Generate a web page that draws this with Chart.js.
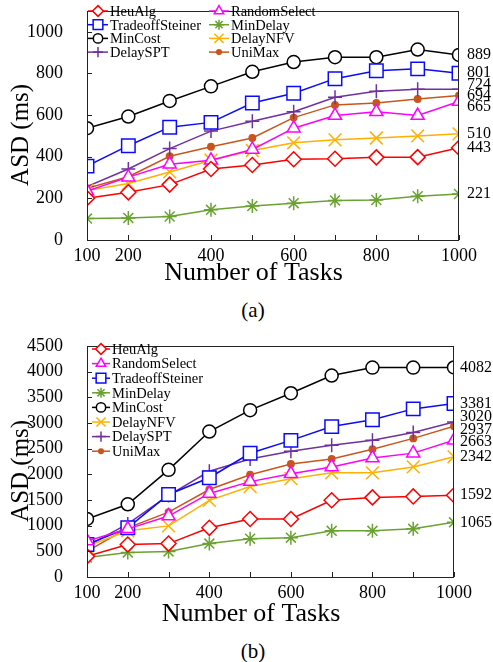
<!DOCTYPE html>
<html lang="en">
<head>
  <meta charset="UTF-8" />
  <title>ASD vs Number of Tasks</title>
  <style>
  body {
    margin: 0;
    background: #ffffff;
    font-family: "Liberation Serif", "Times New Roman", serif;
  }
  .page {
    position: relative;
    width: 493px;
    height: 662px;
  }
  .box {
    position: absolute;
    left: 0;
    width: 493px;
  }
  .caption {
    position: absolute;
    left: 0;
    width: 506px;
    text-align: center;
    font-size: 21px;
    color: #000;
  }
  </style>
  <script src="https://cdn.jsdelivr.net/npm/chart.js"></script>
</head>
<body>
  <div class="page">
    <div class="box" style="top:0;height:290px"><canvas id="chartA"></canvas></div>
    <div class="caption" style="top:298px">(a)</div>
    <div class="box" style="top:335px;height:296px"><canvas id="chartB"></canvas></div>
    <div class="caption" style="top:639px">(b)</div>
  </div>

  <script>
  // x values shared by both panels
  const taskCounts = [100, 200, 300, 400, 500, 600, 700, 800, 900, 1000];
  const xTickLabels = [100, 200, 400, 600, 800, 1000];
  const seriesNames = ['HeuAlg', 'RandomSelect', 'TradeoffSteiner', 'MinDelay', 'MinCost', 'DelayNFV', 'DelaySPT', 'UniMax'];

  // panel (a)
  const heuAlgA          = [201, 229, 266, 341, 360, 388, 390, 397, 398, 443];
  const randomSelectA    = [235, 302, 364, 383, 435, 537, 598, 616, 598, 665];
  const tradeoffSteinerA = [355, 453, 542, 565, 658, 705, 775, 813, 822, 801];
  const minDelayA        = [103, 106, 113, 145, 163, 177, 190, 192, 210, 221];
  const minCostA         = [537, 593, 668, 738, 808, 855, 878, 878, 915, 889];
  const delayNFVA        = [238, 271, 327, 383, 430, 467, 481, 490, 500, 510];
  const delaySPTA        = [257, 341, 439, 523, 570, 616, 686, 714, 724, 724];
  const uniMaxA          = [248, 304, 402, 448, 490, 588, 649, 658, 677, 694];
  const yTicksA = [0, 200, 400, 600, 800, 1000];

  // panel (b)
  const heuAlgB          = [402, 632, 651, 958, 1130, 1130, 1494, 1551, 1570, 1592];
  const randomSelectB    = [700, 938, 1187, 1628, 1858, 2011, 2145, 2317, 2413, 2663];
  const tradeoffSteinerB = [632, 958, 1608, 1934, 2410, 2662, 2930, 3064, 3275, 3381];
  const minDelayB        = [380, 479, 498, 651, 747, 766, 900, 900, 938, 1065];
  const minCostB         = [1130, 1417, 2087, 2834, 3250, 3580, 3925, 4080, 4080, 4082];
  const delayNFVB        = [600, 900, 996, 1494, 1762, 1915, 2030, 2030, 2145, 2342];
  const delaySPTB        = [600, 1034, 1590, 2060, 2300, 2451, 2566, 2662, 2815, 3020];
  const uniMaxB          = [498, 958, 1264, 1704, 1992, 2202, 2298, 2490, 2700, 2937];
  const yTicksB = [0, 500, 1000, 1500, 2000, 2500, 3000, 3500, 4000, 4500];

  const FONT = "'Liberation Serif', 'Times New Roman', serif";

  // marker look for each series (same order as seriesNames)
  const styles = [
    { color: '#ff0000', shape: 'rectRot',  r: 7.5 },
    { color: '#ff00ff', shape: 'triangle', r: 7.5 },
    { color: '#0a0aff', shape: 'rect',     r: 9.5 },
    { color: '#6aa232', shape: 'star',     r: 7 },
    { color: '#000000', shape: 'circle',   r: 6.5 },
    { color: '#ffb000', shape: 'crossRot', r: 9 },
    { color: '#7030a0', shape: 'cross',    r: 7 },
    { color: '#c8561c', shape: 'circle',   r: 3.2, filled: true }
  ];

  function makeDatasets(seriesValues) {
    return seriesValues.map((vals, i) => {
      const s = styles[i];
      return {
        label: seriesNames[i],
        data: taskCounts.map((x, k) => ({ x: x, y: vals[k] })),
        borderColor: s.color,
        backgroundColor: s.filled ? s.color : '#ffffff',
        borderWidth: 1.5,
        pointStyle: s.shape,
        pointRadius: s.r,
        pointBorderWidth: 1.5,
        pointBorderColor: s.color,
        pointBackgroundColor: s.filled ? s.color : '#ffffff',
        tension: 0
      };
    });
  }

  // frame, inward tick marks, value labels at the right end and the legend
  const decorations = {
    id: 'decorations',
    afterDatasetsDraw(chart, args, opts) {
      const ctx = chart.ctx;
      const area = chart.chartArea;
      const xs = chart.scales.x;
      const ys = chart.scales.y;
      ctx.save();

      // frame
      ctx.strokeStyle = '#222';
      ctx.lineWidth = 1;
      ctx.strokeRect(area.left + 0.5, area.top + 0.5, area.right - area.left - 1, area.bottom - area.top);

      // tick marks pointing inward
      ctx.beginPath();
      xs.ticks.forEach(t => {
        const px = Math.round(xs.getPixelForValue(t.value)) + 0.5;
        ctx.moveTo(px, area.bottom);
        ctx.lineTo(px, area.bottom - 5);
      });
      ys.ticks.forEach(t => {
        const py = Math.round(ys.getPixelForValue(t.value)) + 0.5;
        ctx.moveTo(area.left, py);
        ctx.lineTo(area.left + 5, py);
      });
      ctx.stroke();

      // end value labels, spread apart when they collide
      const items = chart.data.datasets.map(ds => {
        const v = ds.data[ds.data.length - 1].y;
        return { text: String(v), want: ys.getPixelForValue(v) };
      }).sort((a, b) => a.want - b.want);
      let groups = items.map(it => ({ items: [it], sum: it.want }));
      let merged = true;
      const gap = opts.labelGap;
      const place = g => {
        const mid = g.sum / g.items.length;
        g.top = mid - (g.items.length - 1) * gap / 2;
      };
      groups.forEach(place);
      while (merged) {
        merged = false;
        for (let i = 0; i < groups.length - 1; i++) {
          const a = groups[i], b = groups[i + 1];
          const aEnd = a.top + (a.items.length - 1) * gap;
          if (b.top - aEnd < gap) {
            a.items = a.items.concat(b.items);
            a.sum += b.sum;
            place(a);
            groups.splice(i + 1, 1);
            merged = true;
            break;
          }
        }
      }
      ctx.fillStyle = '#000';
      ctx.font = opts.labelFont + 'px ' + FONT;
      ctx.textAlign = 'left';
      ctx.textBaseline = 'middle';
      groups.forEach(g => {
        g.items.forEach((it, k) => {
          ctx.fillText(it.text, area.right + opts.labelOffset, g.top + k * gap);
        });
      });

      // legend inside the plot
      const L = opts.legend;
      ctx.font = L.font + 'px ' + FONT;
      chart.data.datasets.forEach((ds, i) => {
        const col = i % L.cols;
        const row = Math.floor(i / L.cols);
        const x0 = L.x[col];
        const y = L.y0 + row * L.dy;
        const s = styles[i];
        ctx.strokeStyle = s.color;
        ctx.lineWidth = 1.5;
        ctx.beginPath();
        ctx.moveTo(x0, y);
        ctx.lineTo(x0 + L.len, y);
        ctx.stroke();
        ctx.fillStyle = s.filled ? s.color : '#ffffff';
        Chart.helpers.drawPoint(ctx, {
          pointStyle: s.shape,
          radius: s.r * 0.72,
          rotation: 0,
          borderWidth: 1.5
        }, x0 + L.len / 2, y);
        ctx.fillStyle = '#000';
        ctx.fillText(ds.label, x0 + L.len + 2, y + 1);
      });
      ctx.restore();
    }
  };

  function makeChart(id, seriesValues, yMax, yTickValues, dims, extra) {
    const ctx = document.getElementById(id).getContext('2d');
    return new Chart(ctx, {
      type: 'line',
      data: { datasets: makeDatasets(seriesValues) },
      plugins: [decorations],
      options: {
        responsive: true,
        maintainAspectRatio: false,
        animation: false,
        layout: { padding: { top: dims.top, right: dims.right, left: 0, bottom: 0 } },
        plugins: {
          legend: { display: false },
          tooltip: { enabled: false },
          decorations: extra
        },
        scales: {
          x: {
            type: 'linear',
            min: 100,
            max: 1000,
            grid: { display: false },
            border: { display: false },
            afterBuildTicks: scale => {
              scale.ticks = taskCounts.map(v => ({ value: v }));
            },
            afterFit: scale => {
              scale.height = dims.xHeight;
              scale.paddingLeft = 0;
              scale.paddingRight = 0;
            },
            ticks: {
              color: '#000',
              font: { family: FONT, size: 18 },
              padding: -3,
              maxRotation: 0,
              autoSkip: false,
              callback: v => xTickLabels.includes(v) ? String(v) : ''
            },
            title: {
              display: true,
              text: 'Number of Tasks      ',
              color: '#000',
              font: { family: FONT, size: 26 },
              padding: { top: 0, bottom: 1 }
            }
          },
          y: {
            min: 0,
            max: yMax,
            grid: { display: false },
            border: { display: false },
            afterBuildTicks: scale => {
              scale.ticks = yTickValues.map(v => ({ value: v }));
            },
            afterFit: scale => {
              scale.width = 87;
              scale.paddingTop = 0;
              scale.paddingBottom = 0;
            },
            ticks: {
              color: '#000',
              font: { family: FONT, size: 18 },
              padding: 16,
              callback: v => String(v)
            },
            title: {
              display: true,
              text: 'ASD (ms)   ',
              color: '#000',
              font: { family: FONT, size: 25 },
              padding: { top: 6, bottom: 0 }
            }
          }
        }
      }
    });
  }

  makeChart('chartA',
    [heuAlgA, randomSelectA, tradeoffSteinerA, minDelayA, minCostA, delayNFVA, delaySPTA, uniMaxA],
    1100, yTicksA,
    { top: 5, right: 34, xHeight: 50 },
    {
      labelGap: 11, labelFont: 16, labelOffset: 8,
      legend: { cols: 2, x: [88, 209], len: 20, y0: 11, dy: 13.7, font: 14.5 }
    });

  makeChart('chartB',
    [heuAlgB, randomSelectB, tradeoffSteinerB, minDelayB, minCostB, delayNFVB, delaySPTB, uniMaxB],
    4500, yTicksB,
    { top: 7, right: 39, xHeight: 54 },
    {
      labelGap: 12.5, labelFont: 16, labelOffset: 6,
      legend: { cols: 1, x: [92], len: 18, y0: 14, dy: 14.6, font: 14.5 }
    });
  </script>
</body>
</html>
